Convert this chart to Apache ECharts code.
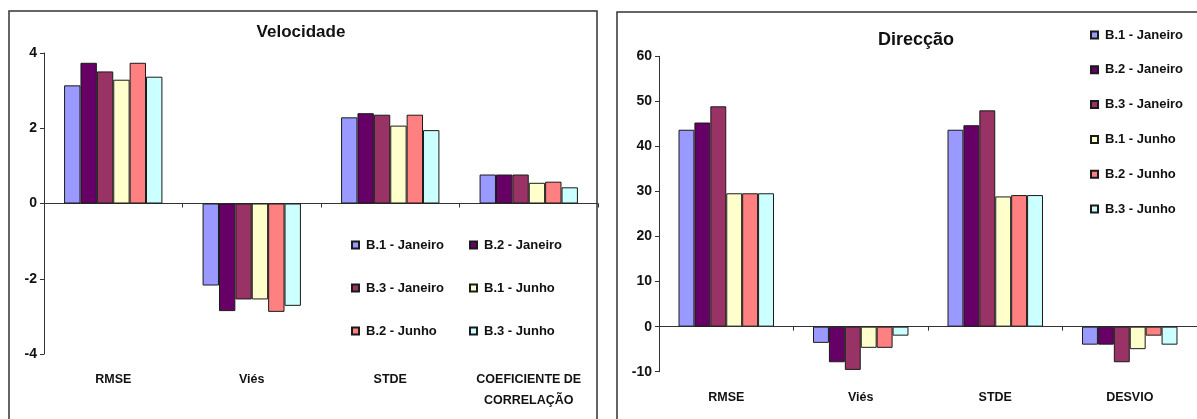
<!DOCTYPE html>
<html>
<head>
<meta charset="utf-8">
<script src="https://cdn.jsdelivr.net/npm/echarts@6/dist/echarts.min.js"></script>
<style>
  html, body { margin: 0; padding: 0; background: #fff; }
  #chart { width: 1197px; height: 419px; }
</style>
</head>
<body>
<div id="chart"></div>
<script>
// Categories of each panel
const categoriesVel = ['RMSE', 'Viés', 'STDE', 'COEFICIENTE DE\nCORRELAÇÃO'];
const categoriesDir = ['RMSE', 'Viés', 'STDE', 'DESVIO'];
const seriesNames = ['B.1 - Janeiro', 'B.2 - Janeiro', 'B.3 - Janeiro', 'B.1 - Junho', 'B.2 - Junho', 'B.3 - Junho'];
const seriesColors = ['#9999FF', '#660066', '#993366', '#FFFFCC', '#FF8080', '#CCFFFF'];

// Velocidade values (per series, in category order)
const velB1Jan = [3.14, -2.18, 2.29, 0.77];
const velB2Jan = [3.74, -2.86, 2.40, 0.77];
const velB3Jan = [3.51, -2.55, 2.36, 0.77];
const velB1Jun = [3.29, -2.55, 2.07, 0.55];
const velB2Jun = [3.74, -2.88, 2.36, 0.58];
const velB3Jun = [3.37, -2.72, 1.95, 0.43];

// Direcção values
const dirB1Jan = [43.7, -3.6, 43.7, -4.0];
const dirB2Jan = [45.3, -7.9, 44.7, -4.0];
const dirB3Jan = [48.9, -9.6, 48.0, -7.9];
const dirB1Jun = [29.6, -4.7, 28.9, -5.0];
const dirB2Jun = [29.6, -4.7, 29.2, -2.0];
const dirB3Jun = [29.6, -2.0, 29.2, -4.0];

// Y-axis scales
const velAxis = { min: -4, max: 4, interval: 2 };
const dirAxis = { min: -10, max: 60, interval: 10 };

const velData = [velB1Jan, velB2Jan, velB3Jan, velB1Jun, velB2Jun, velB3Jun];
const dirData = [dirB1Jan, dirB2Jan, dirB3Jan, dirB1Jun, dirB2Jun, dirB3Jun];

const FONT = 'Liberation Sans, Arial, sans-serif';
const INK = '#111';
const AXIS_COLOR = '#333';

// Category labels sit below the plot; a second axis draws the zero line with its ticks
function labelAxis(gridIndex, cats) {
  return {
    type: 'category', gridIndex: gridIndex, data: cats, position: 'bottom',
    axisLine: { show: false, onZero: false }, axisTick: { show: false },
    axisLabel: { margin: 15, color: INK, fontFamily: FONT, fontWeight: 'bold', fontSize: 12.5, lineHeight: 21, interval: 0 },
    splitLine: { show: false }
  };
}
function zeroAxis(gridIndex, cats) {
  return {
    type: 'category', gridIndex: gridIndex, data: cats, position: 'bottom',
    axisLine: { show: true, onZero: true, lineStyle: { color: AXIS_COLOR, width: 1 } },
    axisTick: { show: true, length: 4, lineStyle: { color: AXIS_COLOR } },
    axisLabel: { show: false }, splitLine: { show: false }
  };
}
function valueAxis(gridIndex, scale) {
  return {
    type: 'value', gridIndex: gridIndex, min: scale.min, max: scale.max, interval: scale.interval,
    axisLine: { show: true, lineStyle: { color: AXIS_COLOR, width: 1 } },
    axisTick: { show: true, length: 4, lineStyle: { color: AXIS_COLOR } },
    axisLabel: { margin: 7, color: INK, fontFamily: FONT, fontWeight: 'bold', fontSize: 14 },
    splitLine: { show: false }
  };
}

const series = [];
seriesNames.forEach(function (name, i) {
  const common = {
    name: name, type: 'bar', barGap: '0%', barCategoryGap: '29%',
    itemStyle: { color: seriesColors[i], borderColor: '#1a1a1a', borderWidth: 1 },
    emphasis: { disabled: true }, animation: false
  };
  series.push(Object.assign({}, common, { xAxisIndex: 0, yAxisIndex: 0, data: velData[i] }));
  series.push(Object.assign({}, common, { xAxisIndex: 2, yAxisIndex: 1, data: dirData[i] }));
});

const legendText = { color: INK, fontFamily: FONT, fontWeight: 'bold', fontSize: 13 };
function legend(names, left, top, gap) {
  return {
    orient: 'vertical', left: left, top: top, padding: 0, itemGap: gap,
    itemWidth: 7, itemHeight: 7, icon: 'rect', selectedMode: false,
    textStyle: Object.assign({ padding: [0, 0, 0, 2] }, legendText), data: names
  };
}

const chart = echarts.init(document.getElementById('chart'));
chart.setOption({
  animation: false,
  grid: [
    { left: 44, top: 53, width: 554, height: 301 },
    { left: 659, top: 56.3, width: 551, height: 315.4 }
  ],
  xAxis: [labelAxis(0, categoriesVel), zeroAxis(0, categoriesVel), labelAxis(1, categoriesDir), zeroAxis(1, categoriesDir)],
  yAxis: [valueAxis(0, velAxis), valueAxis(1, dirAxis)],
  legend: [
    legend([seriesNames[0], seriesNames[2], seriesNames[4]], 351, 238.5, 30),
    legend([seriesNames[1], seriesNames[3], seriesNames[5]], 469, 238.5, 30),
    legend(seriesNames, 1090, 28.5, 21.8)
  ],
  graphic: [
    { type: 'rect', silent: true, z: -1, shape: { x: 9, y: 11, width: 588, height: 500 },
      style: { fill: 'none', stroke: '#333', lineWidth: 1.5 } },
    { type: 'rect', silent: true, z: -1, shape: { x: 617, y: 12, width: 700, height: 500 },
      style: { fill: 'none', stroke: '#333', lineWidth: 1.5 } },
    { type: 'text', silent: true, x: 301, y: 32,
      style: { text: 'Velocidade', fill: INK, font: 'bold 17px ' + FONT, textAlign: 'center', textVerticalAlign: 'middle' } },
    { type: 'text', silent: true, x: 916, y: 40,
      style: { text: 'Direcção', fill: INK, font: 'bold 18px ' + FONT, textAlign: 'center', textVerticalAlign: 'middle' } }
  ],
  series: series
});
</script>
</body>
</html>
